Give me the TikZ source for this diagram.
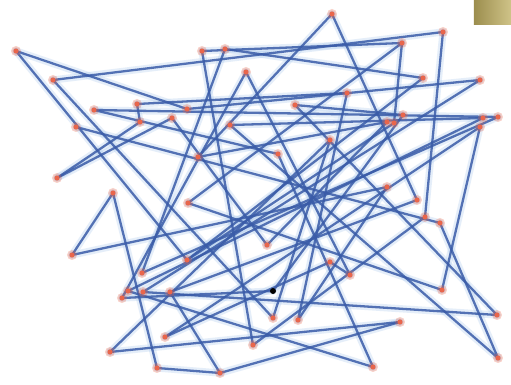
\documentclass[tikz,border=0pt]{standalone}
\usetikzlibrary{shadings}
\definecolor{linec}{HTML}{3A5CA8}
\definecolor{haloc}{HTML}{A9C8EC}
\definecolor{dotc}{HTML}{E8664C}
\definecolor{oliveA}{HTML}{9C8E4E}
\definecolor{oliveB}{HTML}{CFC388}
\tikzset{
  halo/.style={draw=haloc,line width=3.6,opacity=0.3,line cap=round},
  edge/.style={draw=linec,line width=1.15,opacity=0.85,line cap=round},
  dotglow/.style={fill=dotc,opacity=0.3},
  dotcore/.style={fill=dotc},
}
\begin{document}
\begin{tikzpicture}[x=0.5pt,y=-0.5pt]
\useasboundingbox (0,0) rectangle (511,385);
\fill[white] (0,0) rectangle (511,385);
\shade[left color=oliveA,right color=oliveB] (474,0) rectangle (511,25);
% points
\coordinate (p1) at (16,51);
\coordinate (p2) at (53,80);
\coordinate (p3) at (94,110);
\coordinate (p4) at (137,104);
\coordinate (p5) at (140,122);
\coordinate (p6) at (76,127);
\coordinate (p7) at (172,118);
\coordinate (p8) at (187,109);
\coordinate (p9) at (57,178);
\coordinate (p10) at (113,193);
\coordinate (p11) at (202,51);
\coordinate (p12) at (225,49);
\coordinate (p13) at (246,72);
\coordinate (p14) at (230,125);
\coordinate (p15) at (198,157);
\coordinate (p16) at (332,14);
\coordinate (p17) at (402,43);
\coordinate (p18) at (443,32);
\coordinate (p19) at (423,78);
\coordinate (p20) at (480,80);
\coordinate (p21) at (347,93);
\coordinate (p22) at (295,105);
\coordinate (p23) at (387,122);
\coordinate (p24) at (394,123);
\coordinate (p25) at (403,115);
\coordinate (p26) at (483,118);
\coordinate (p27) at (498,117);
\coordinate (p28) at (480,127);
\coordinate (p29) at (330,140);
\coordinate (p30) at (278,154);
\coordinate (p31) at (387,187);
\coordinate (p32) at (417,200);
\coordinate (p33) at (425,217);
\coordinate (p34) at (440,223);
\coordinate (p35) at (188,203);
\coordinate (p36) at (72,255);
\coordinate (p37) at (187,260);
\coordinate (p38) at (142,273);
\coordinate (p39) at (128,291);
\coordinate (p40) at (143,292);
\coordinate (p41) at (122,298);
\coordinate (p42) at (170,292);
\coordinate (p43) at (165,337);
\coordinate (p44) at (110,352);
\coordinate (p45) at (157,368);
\coordinate (p46) at (220,373);
\coordinate (p47) at (253,345);
\coordinate (p48) at (267,245);
\coordinate (p49) at (330,262);
\coordinate (p50) at (350,275);
\coordinate (p51) at (273,291);
\coordinate (p52) at (442,290);
\coordinate (p53) at (273,318);
\coordinate (p54) at (298,320);
\coordinate (p55) at (400,322);
\coordinate (p56) at (497,315);
\coordinate (p57) at (373,367);
\coordinate (p58) at (498,358);
\def\edgelist{1/37,1/8,2/18,2/53,3/27,3/30,4/5,4/21,5/9,6/34,7/9,7/48,8/20,10/36,10/45,11/17,11/47,12/19,12/38,13/50,13/41,14/26,14/58,15/16,15/23,16/32,17/24,17/35,18/33,19/37,20/40,21/54,22/56,22/25,23/48,24/37,25/51,26/39,27/38,28/52,28/43,29/53,29/44,30/57,31/36,31/54,32/42,33/47,34/58,35/52,39/57,40/56,41/51,42/46,43/49,44/55,45/46,46/55,49/50}
\foreach \a/\b in \edgelist { \draw[halo] (p\a) -- (p\b); }
\foreach \a/\b in \edgelist { \draw[edge] (p\a) -- (p\b); }
\foreach \i in {1,...,50,52,53,...,58} {
  \fill[dotglow] (p\i) circle (5);
  \fill[dotcore] (p\i) circle (2.6);
}
\fill[black] (p51) circle (3);
\end{tikzpicture}
\end{document}
